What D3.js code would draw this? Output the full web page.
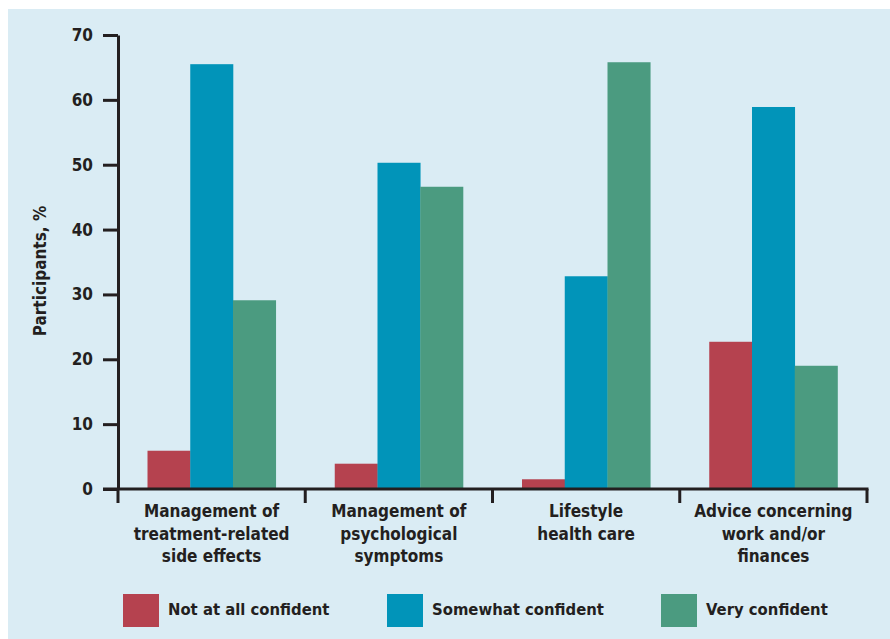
<!DOCTYPE html>
<html>
<head>
<meta charset="utf-8">
<script src="https://cdn.jsdelivr.net/npm/d3@7"></script>
<style>
  body { margin: 0; background: #ffffff; }
  text { font-family: "DejaVu Sans Condensed", "DejaVu Sans", sans-serif; font-weight: bold; fill: #231f20; }
</style>
</head>
<body>
<div id="vis-holder"></div>
<script>
// Chart values
const categories = [
  ["Management of", "treatment-related", "side effects"],
  ["Management of", "psychological", "symptoms"],
  ["Lifestyle", "health care"],
  ["Advice concerning", "work and/or", "finances"]
];
const seriesNames = ["Not at all confident", "Somewhat confident", "Very confident"];
const notAtAll = [5.9, 3.9, 1.5, 22.7];
const somewhat = [65.5, 50.3, 32.8, 58.9];
const very = [29.1, 46.6, 65.8, 19.0];
const yTicks = [0, 10, 20, 30, 40, 50, 60, 70];
const colors = ["#b5424f", "#0194b9", "#4b9b80"];

const width = 890;
const height = 639;
const margin = { top: 35, right: 23, bottom: 150, left: 118 };

const svg = d3.select("#vis-holder")
  .append("svg")
  .attr("width", width)
  .attr("height", height);

// Light blue panel
svg.append("rect")
  .attr("x", 8).attr("y", 9)
  .attr("width", width - 8).attr("height", height - 9)
  .attr("fill", "#daecf4");

const series = [notAtAll, somewhat, very];
const data = categories.map((c, i) => ({ i, values: series.map(s => s[i]) }));

// Scales
const x0 = d3.scaleBand()
  .domain(d3.range(categories.length))
  .range([margin.left, width - margin.right])
  .paddingInner(0)
  .paddingOuter(0);

const x1 = d3.scaleBand()
  .domain(d3.range(seriesNames.length))
  .range([0, x0.bandwidth()])
  .paddingOuter(0.69)
  .paddingInner(0);

const y = d3.scaleLinear()
  .domain([0, 70])
  .range([height - margin.bottom, margin.top]);

// Bars
svg.append("g")
  .selectAll("g")
  .data(data)
  .join("g")
  .attr("transform", d => `translate(${x0(d.i)},0)`)
  .selectAll("rect")
  .data(d => d.values.map((v, k) => ({ k, v })))
  .join("rect")
  .attr("x", d => x1(d.k))
  .attr("y", d => y(d.v))
  .attr("width", x1.bandwidth() + 0.3)
  .attr("height", d => y(0) - y(d.v))
  .attr("fill", d => colors[d.k]);

// Y axis
svg.append("g")
  .attr("transform", `translate(${margin.left},0)`)
  .call(d3.axisLeft(y).tickValues(yTicks).tickSize(15).tickSizeOuter(0).tickPadding(10))
  .call(g => g.selectAll("path, line").attr("stroke", "#231f20").attr("stroke-width", 3))
  .call(g => g.selectAll("text").attr("font-size", "17px").attr("fill", "#231f20")
    .attr("font-family", null));

// X axis line + boundary ticks
const xAxis = svg.append("g");
xAxis.append("line")
  .attr("x1", margin.left - 15).attr("x2", width - margin.right + 1.5)
  .attr("y1", y(0)).attr("y2", y(0))
  .attr("stroke", "#231f20").attr("stroke-width", 3);

const bounds = x0.domain().map(d => x0(d)).concat([x0.range()[1]]);
xAxis.selectAll(".bound")
  .data(bounds)
  .join("line")
  .attr("class", "bound")
  .attr("x1", d => d).attr("x2", d => d)
  .attr("y1", y(0)).attr("y2", y(0) + 14)
  .attr("stroke", "#231f20").attr("stroke-width", 3);

// Category labels
xAxis.selectAll(".cat")
  .data(data)
  .join("text")
  .attr("class", "cat")
  .attr("text-anchor", "middle")
  .attr("font-size", "17px")
  .attr("x", d => x0(d.i) + x0.bandwidth() / 2)
  .attr("y", 517)
  .selectAll("tspan")
  .data(d => categories[d.i])
  .join("tspan")
  .attr("x", function() { return d3.select(this.parentNode).attr("x"); })
  .attr("dy", (d, k) => k === 0 ? 0 : 22.5)
  .text(d => d);

// Y axis title
svg.append("text")
  .attr("transform", "translate(46,271) rotate(-90)")
  .attr("text-anchor", "middle")
  .attr("font-size", "17px")
  .text("Participants, %");

// Legend
const legendX = [123, 387, 661];
const legend = svg.append("g")
  .selectAll("g")
  .data(seriesNames)
  .join("g")
  .attr("transform", (d, k) => `translate(${legendX[k]},594)`);

legend.append("rect")
  .attr("width", 36).attr("height", 33)
  .attr("fill", (d, k) => colors[k]);

legend.append("text")
  .attr("x", 45).attr("y", 21)
  .attr("font-size", "16.5px")
  .text(d => d);
</script>
</body>
</html>
